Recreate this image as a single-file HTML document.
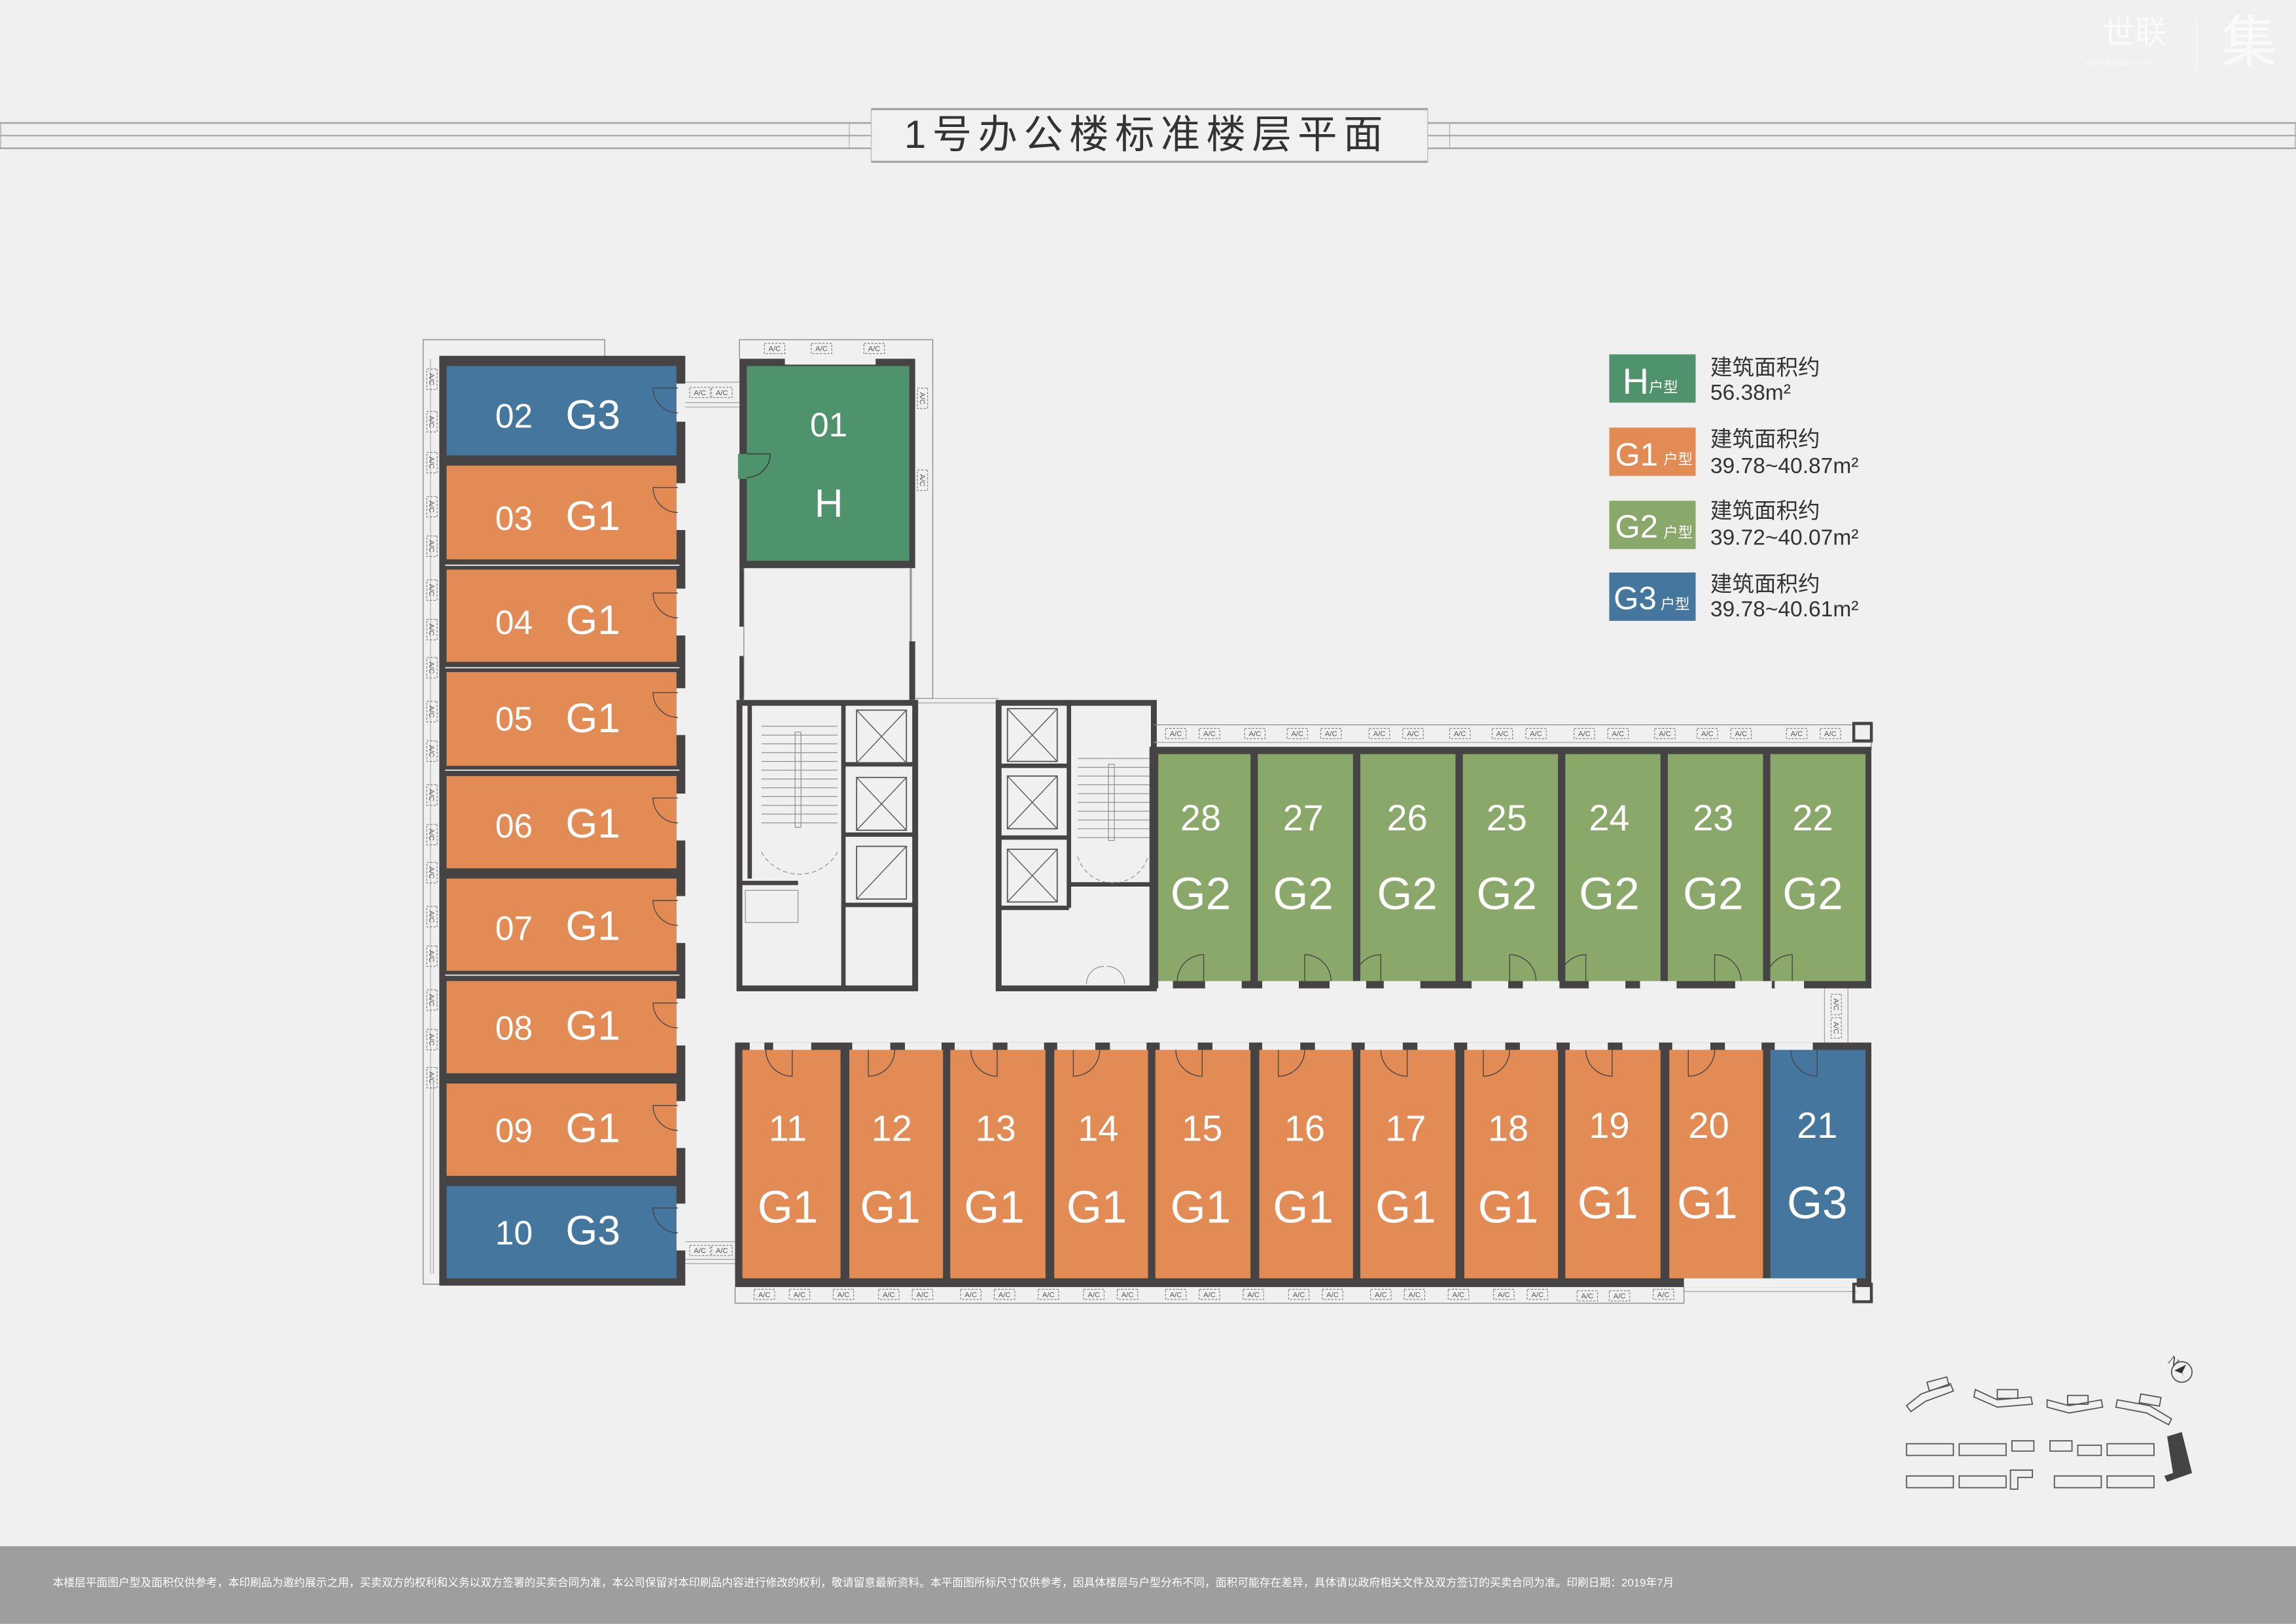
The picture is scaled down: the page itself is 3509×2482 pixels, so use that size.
<!DOCTYPE html>
<html><head><meta charset="utf-8">
<style>
html,body{margin:0;padding:0;background:#eff0ef;}
svg{display:block;}
.n{font-family:"Liberation Sans Narrow","Liberation Sans",sans-serif;fill:#fff;text-anchor:middle;}
.w{font-family:"Liberation Sans",sans-serif;fill:#fff;text-anchor:middle;}
.ac{font-family:"Liberation Sans",sans-serif;font-size:5px;fill:#555;text-anchor:middle;}
.cn{font-family:"Liberation Sans","Noto Sans CJK SC",sans-serif;}
</style></head>
<body>
<svg width="3509" height="2482" viewBox="0 0 1568 1109.1" preserveAspectRatio="none" xmlns="http://www.w3.org/2000/svg">
<defs>
<g id="acbox"><rect x="-7" y="-3.5" width="14" height="7" fill="none" stroke="#777" stroke-width="0.5" stroke-dasharray="1.5,1"/></g>
<g id="elev"><rect x="0" y="0" width="34" height="36" fill="none" stroke="#555" stroke-width="0.8"/><line x1="0" y1="0" x2="34" y2="36" stroke="#555" stroke-width="0.6"/><line x1="34" y1="0" x2="0" y2="36" stroke="#555" stroke-width="0.6"/></g>
</defs>
<rect width="1568" height="1109.1" fill="#eff0ef"/>

<!-- header band -->
<g stroke="#a9a9a9" fill="none">
<line x1="0" y1="84" x2="595" y2="84" stroke-width="1.2"/>
<line x1="0" y1="92.6" x2="595" y2="92.6" stroke-width="1"/>
<line x1="0" y1="101.3" x2="595" y2="101.3" stroke-width="1.2"/>
<line x1="975" y1="84" x2="1568" y2="84" stroke-width="1.2"/>
<line x1="975" y1="92.6" x2="1568" y2="92.6" stroke-width="1"/>
<line x1="975" y1="101.3" x2="1568" y2="101.3" stroke-width="1.2"/>
<line x1="0.5" y1="84" x2="0.5" y2="101" stroke-width="0.6"/>
<line x1="1567.5" y1="84" x2="1567.5" y2="101" stroke-width="0.6"/>
<line x1="580" y1="84" x2="580" y2="101" stroke-width="0.5"/>
<line x1="990" y1="84" x2="990" y2="101" stroke-width="0.5"/>
</g>
<rect x="595" y="74.5" width="380" height="36" fill="#f1f1f1" stroke="#bbb" stroke-width="0.6"/>
<line x1="595" y1="74.5" x2="975" y2="74.5" stroke="#a5a5a5" stroke-width="1.5"/>
<line x1="595" y1="110.5" x2="975" y2="110.5" stroke="#a5a5a5" stroke-width="1.5"/>
<text x="783" y="101" class="cn" font-size="27" fill="#333" text-anchor="middle" letter-spacing="4.2">1号办公楼标准楼层平面</text>

<!-- watermark -->
<text x="1458" y="30" class="cn" font-size="22" fill="#fafafa" text-anchor="middle">世联</text>
<text x="1448" y="45" font-family="Liberation Sans" font-size="7" fill="#f8f8f8" text-anchor="middle">worldunion.com</text>
<line x1="1500" y1="12" x2="1500" y2="48" stroke="#f8f8f8" stroke-width="0.7"/>
<text x="1536" y="42" class="cn" font-size="38" fill="#fafafa" text-anchor="middle">集</text>

<!-- ===== LEFT COLUMN ===== -->
<polyline points="413,243 413,232 289,232 289,877 300,877" fill="none" stroke="#888" stroke-width="0.6"/>
<line x1="294" y1="245" x2="294" y2="870" stroke="#999" stroke-width="0.4"/>
<line x1="296" y1="740" x2="296" y2="870" stroke="#999" stroke-width="0.5"/>
<rect x="300" y="243" width="168" height="635" fill="#454343"/>
<rect x="305" y="250" width="157" height="61" fill="#45779e"/>
<rect x="305" y="318" width="157" height="64" fill="#e28b55"/>
<rect x="305" y="389" width="157" height="63" fill="#e28b55"/>
<rect x="305" y="459" width="157" height="64" fill="#e28b55"/>
<rect x="305" y="530" width="157" height="63" fill="#e28b55"/>
<rect x="305" y="600" width="157" height="63" fill="#e28b55"/>
<rect x="305" y="670" width="157" height="63" fill="#e28b55"/>
<rect x="305" y="740" width="157" height="63" fill="#e28b55"/>
<rect x="305" y="810" width="157" height="63" fill="#45779e"/>
<g stroke="#eee" stroke-width="0.8" fill="none">
<line x1="304" y1="386" x2="464" y2="386"/><line x1="304" y1="456" x2="464" y2="456"/>
<line x1="304" y1="526" x2="464" y2="526"/><line x1="304" y1="666" x2="464" y2="666"/>
</g>
<g fill="#eff0ef">
<rect x="462" y="262" width="7" height="26"/><rect x="462" y="330" width="7" height="32"/><rect x="462" y="402" width="7" height="32"/>
<rect x="462" y="470" width="7" height="32"/><rect x="462" y="542" width="7" height="32"/><rect x="462" y="612" width="7" height="32"/>
<rect x="462" y="682" width="7" height="32"/><rect x="462" y="752" width="7" height="32"/><rect x="462" y="822" width="7" height="32"/>
</g>
<g fill="none" stroke="#444" stroke-width="0.6">
<path d="M463,265 h-17 a17,17 0 0 0 17,17"/>
<path d="M463,333 h-17 a17,17 0 0 0 17,17"/>
<path d="M463,405 h-17 a17,17 0 0 0 17,17"/>
<path d="M463,473 h-17 a17,17 0 0 0 17,17"/>
<path d="M463,545 h-17 a17,17 0 0 0 17,17"/>
<path d="M463,615 h-17 a17,17 0 0 0 17,17"/>
<path d="M463,685 h-17 a17,17 0 0 0 17,17"/>
<path d="M463,755 h-17 a17,17 0 0 0 17,17"/>
<path d="M463,825 h-17 a17,17 0 0 0 17,17"/>
</g>
<g>
<text x="351" y="292" class="n" font-size="23">02</text><text x="405" y="293" class="w" font-size="28">G3</text>
<text x="351" y="362" class="n" font-size="23">03</text><text x="405" y="362" class="w" font-size="28">G1</text>
<text x="351" y="433" class="n" font-size="23">04</text><text x="405" y="433" class="w" font-size="28">G1</text>
<text x="351" y="499" class="n" font-size="23">05</text><text x="405" y="500" class="w" font-size="28">G1</text>
<text x="351" y="572" class="n" font-size="23">06</text><text x="405" y="572" class="w" font-size="28">G1</text>
<text x="351" y="642" class="n" font-size="23">07</text><text x="405" y="642" class="w" font-size="28">G1</text>
<text x="351" y="710" class="n" font-size="23">08</text><text x="405" y="710" class="w" font-size="28">G1</text>
<text x="351" y="780" class="n" font-size="23">09</text><text x="405" y="780" class="w" font-size="28">G1</text>
<text x="351" y="850" class="n" font-size="23">10</text><text x="405" y="850" class="w" font-size="28">G3</text>
</g>
<g>
<g transform="translate(295,259) rotate(90)"><use href="#acbox"/><text class="ac" y="1.8">A/C</text></g>
<g transform="translate(295,288) rotate(90)"><use href="#acbox"/><text class="ac" y="1.8">A/C</text></g>
<g transform="translate(295,316) rotate(90)"><use href="#acbox"/><text class="ac" y="1.8">A/C</text></g>
<g transform="translate(295,346) rotate(90)"><use href="#acbox"/><text class="ac" y="1.8">A/C</text></g>
<g transform="translate(295,373) rotate(90)"><use href="#acbox"/><text class="ac" y="1.8">A/C</text></g>
<g transform="translate(295,403) rotate(90)"><use href="#acbox"/><text class="ac" y="1.8">A/C</text></g>
<g transform="translate(295,430) rotate(90)"><use href="#acbox"/><text class="ac" y="1.8">A/C</text></g>
<g transform="translate(295,456) rotate(90)"><use href="#acbox"/><text class="ac" y="1.8">A/C</text></g>
<g transform="translate(295,486) rotate(90)"><use href="#acbox"/><text class="ac" y="1.8">A/C</text></g>
<g transform="translate(295,513) rotate(90)"><use href="#acbox"/><text class="ac" y="1.8">A/C</text></g>
<g transform="translate(295,543) rotate(90)"><use href="#acbox"/><text class="ac" y="1.8">A/C</text></g>
<g transform="translate(295,570) rotate(90)"><use href="#acbox"/><text class="ac" y="1.8">A/C</text></g>
<g transform="translate(295,596) rotate(90)"><use href="#acbox"/><text class="ac" y="1.8">A/C</text></g>
<g transform="translate(295,626) rotate(90)"><use href="#acbox"/><text class="ac" y="1.8">A/C</text></g>
<g transform="translate(295,653) rotate(90)"><use href="#acbox"/><text class="ac" y="1.8">A/C</text></g>
<g transform="translate(295,683) rotate(90)"><use href="#acbox"/><text class="ac" y="1.8">A/C</text></g>
<g transform="translate(295,710) rotate(90)"><use href="#acbox"/><text class="ac" y="1.8">A/C</text></g>
<g transform="translate(295,736) rotate(90)"><use href="#acbox"/><text class="ac" y="1.8">A/C</text></g>
</g>
<g stroke="#999" stroke-width="0.5">
<line x1="468" y1="261" x2="505" y2="261"/><line x1="468" y1="275" x2="505" y2="275"/><line x1="468" y1="278" x2="505" y2="278"/>
<line x1="468" y1="848" x2="505" y2="848"/><line x1="468" y1="860" x2="505" y2="860"/><line x1="468" y1="863" x2="505" y2="863"/>
</g>
<g transform="translate(478,268)"><use href="#acbox"/><text class="ac" y="1.8">A/C</text></g>
<g transform="translate(493,268)"><use href="#acbox"/><text class="ac" y="1.8">A/C</text></g>
<g transform="translate(478,854)"><use href="#acbox"/><text class="ac" y="1.8">A/C</text></g>
<g transform="translate(493,854)"><use href="#acbox"/><text class="ac" y="1.8">A/C</text></g>

<!-- ===== H UNIT ===== -->
<polyline points="505,245 505,232 637,232 637,477 625,477" fill="none" stroke="#888" stroke-width="0.6"/>
<g transform="translate(529,238)"><use href="#acbox"/><text class="ac" y="1.8">A/C</text></g>
<g transform="translate(561,238)"><use href="#acbox"/><text class="ac" y="1.8">A/C</text></g>
<g transform="translate(597,238)"><use href="#acbox"/><text class="ac" y="1.8">A/C</text></g>
<g transform="translate(630,272) rotate(90)"><use href="#acbox"/><text class="ac" y="1.8">A/C</text></g>
<g transform="translate(630,328) rotate(90)"><use href="#acbox"/><text class="ac" y="1.8">A/C</text></g>
<rect x="505" y="245" width="120" height="143" fill="#454343"/>
<rect x="510" y="250" width="111" height="133" fill="#4e936b"/>
<rect x="536" y="244" width="62" height="5" fill="#eff0ef"/>
<rect x="504" y="310" width="6" height="17" fill="#4e936b"/>
<path d="M510,310 h16 a16,16 0 0 1 -16,16" fill="none" stroke="#333" stroke-width="0.6"/>
<text x="566" y="298" class="n" font-size="23">01</text>
<text x="566" y="353" class="w" font-size="27">H</text>
<rect x="505" y="388" width="3" height="40" fill="#454343"/>
<rect x="505" y="448" width="3" height="30" fill="#454343"/>
<line x1="508" y1="388" x2="508" y2="477" stroke="#777" stroke-width="0.5"/>
<line x1="622" y1="388" x2="622" y2="477" stroke="#999" stroke-width="1.5"/>
<rect x="621" y="438" width="4" height="40" fill="#454343"/>
<g stroke="#999" stroke-width="0.5"><line x1="625" y1="477" x2="682" y2="477"/><line x1="625" y1="480" x2="682" y2="480"/></g>

<!-- ===== CORE 1 ===== -->
<g fill="none" stroke="#454343" stroke-width="4">
<path d="M625,480 H505 V675 H625 Z"/>
</g>
<g fill="none" stroke="#454343" stroke-width="3">
<line x1="576" y1="480" x2="576" y2="675"/>
<line x1="512" y1="480" x2="512" y2="600"/>
<line x1="505" y1="603" x2="545" y2="603"/>
<line x1="576" y1="522" x2="625" y2="522"/>
<line x1="576" y1="570" x2="625" y2="570"/>
<line x1="576" y1="618" x2="625" y2="618"/>
</g>
<use href="#elev" transform="translate(585,485)"/>
<use href="#elev" transform="translate(585,531)"/>
<rect x="585" y="578" width="34" height="36" fill="none" stroke="#555" stroke-width="0.8"/>
<line x1="585" y1="614" x2="619" y2="578" stroke="#555" stroke-width="0.6"/>
<g stroke="#888" stroke-width="0.5" fill="none">
<line x1="520" y1="496" x2="572" y2="496"/><line x1="520" y1="502" x2="572" y2="502"/><line x1="520" y1="508" x2="572" y2="508"/><line x1="520" y1="514" x2="572" y2="514"/>
<line x1="520" y1="520" x2="572" y2="520"/><line x1="520" y1="526" x2="572" y2="526"/><line x1="520" y1="532" x2="572" y2="532"/><line x1="520" y1="538" x2="572" y2="538"/>
<line x1="520" y1="544" x2="572" y2="544"/><line x1="520" y1="550" x2="572" y2="550"/><line x1="520" y1="556" x2="572" y2="556"/><line x1="520" y1="562" x2="572" y2="562"/>
<rect x="543" y="500" width="4" height="65"/>
<path d="M520,582 a30,30 0 0 0 52,0" stroke-dasharray="3,2"/>
<rect x="509" y="608" width="36" height="22"/>
</g>

<!-- ===== CORE 2 ===== -->
<g fill="none" stroke="#454343" stroke-width="4">
<path d="M682,480 H788 V675 H682 Z"/>
</g>
<g fill="none" stroke="#454343" stroke-width="3">
<line x1="730" y1="480" x2="730" y2="620"/>
<line x1="682" y1="523" x2="730" y2="523"/>
<line x1="682" y1="572" x2="730" y2="572"/>
<line x1="682" y1="620" x2="730" y2="620"/>
<line x1="730" y1="604" x2="788" y2="604"/>
</g>
<use href="#elev" transform="translate(688,484)"/>
<use href="#elev" transform="translate(688,530)"/>
<use href="#elev" transform="translate(688,580)"/>
<g stroke="#888" stroke-width="0.5" fill="none">
<line x1="736" y1="518" x2="785" y2="518"/><line x1="736" y1="524" x2="785" y2="524"/><line x1="736" y1="530" x2="785" y2="530"/><line x1="736" y1="536" x2="785" y2="536"/>
<line x1="736" y1="542" x2="785" y2="542"/><line x1="736" y1="548" x2="785" y2="548"/><line x1="736" y1="554" x2="785" y2="554"/><line x1="736" y1="560" x2="785" y2="560"/>
<line x1="736" y1="566" x2="785" y2="566"/><line x1="736" y1="572" x2="785" y2="572"/>
<rect x="757" y="522" width="4" height="52"/>
<path d="M736,585 a25,25 0 0 0 48,0" stroke-dasharray="3,2"/>
<path d="M742,672 a12,12 0 0 1 12,-12 M768,672 a12,12 0 0 0 -12,-12"/>
</g>

<!-- ===== G2 ROW ===== -->
<polyline points="788,495 1278,495 1278,512" fill="none" stroke="#888" stroke-width="0.6"/>
<line x1="788" y1="507" x2="1278" y2="507" stroke="#aaa" stroke-width="0.6"/>
<rect x="785" y="510" width="493" height="165" fill="#454343"/>
<g fill="#8aa86a">
<rect x="791" y="515" width="63" height="155"/>
<rect x="859" y="515" width="65" height="155"/>
<rect x="929" y="515" width="65" height="155"/>
<rect x="999" y="515" width="65" height="155"/>
<rect x="1069" y="515" width="65" height="155"/>
<rect x="1139" y="515" width="65" height="155"/>
<rect x="1209" y="515" width="65" height="155"/>
</g>
<g fill="#eff0ef">
<rect x="791" y="670" width="10" height="5"/><rect x="823" y="670" width="25" height="5"/>
<rect x="862" y="670" width="25" height="5"/><rect x="908" y="670" width="25" height="5"/>
<rect x="945" y="670" width="25" height="5"/><rect x="1005" y="670" width="25" height="5"/>
<rect x="1040" y="670" width="25" height="5"/><rect x="1085" y="670" width="25" height="5"/>
<rect x="1120" y="670" width="25" height="5"/><rect x="1185" y="670" width="25" height="5"/>
<rect x="1212" y="670" width="20" height="5"/>
</g>
<g fill="none" stroke="#444" stroke-width="0.6">
<path d="M822,670 v-18 a18,18 0 0 0 -18,18"/>
<path d="M891,670 v-18 a18,18 0 0 1 18,18"/>
<path d="M943,670 v-18 a18,18 0 0 0 -18,18"/>
<path d="M1031,670 v-18 a18,18 0 0 1 18,18"/>
<path d="M1083,670 v-18 a18,18 0 0 0 -18,18"/>
<path d="M1171,670 v-18 a18,18 0 0 1 18,18"/>
<path d="M1224,670 v-18 a18,18 0 0 0 -18,18"/>
</g>
<g>
<text x="820" y="567" class="n" font-size="25">28</text><text x="820" y="621" class="n" font-size="31">G2</text>
<text x="890" y="567" class="n" font-size="25">27</text><text x="890" y="621" class="n" font-size="31">G2</text>
<text x="961" y="567" class="n" font-size="25">26</text><text x="961" y="621" class="n" font-size="31">G2</text>
<text x="1029" y="567" class="n" font-size="25">25</text><text x="1029" y="621" class="n" font-size="31">G2</text>
<text x="1099" y="567" class="n" font-size="25">24</text><text x="1099" y="621" class="n" font-size="31">G2</text>
<text x="1170" y="567" class="n" font-size="25">23</text><text x="1170" y="621" class="n" font-size="31">G2</text>
<text x="1238" y="567" class="n" font-size="25">22</text><text x="1238" y="621" class="n" font-size="31">G2</text>
</g>
<g>
<g transform="translate(803,501)"><use href="#acbox"/><text class="ac" y="1.8">A/C</text></g>
<g transform="translate(826,501)"><use href="#acbox"/><text class="ac" y="1.8">A/C</text></g>
<g transform="translate(857,501)"><use href="#acbox"/><text class="ac" y="1.8">A/C</text></g>
<g transform="translate(886,501)"><use href="#acbox"/><text class="ac" y="1.8">A/C</text></g>
<g transform="translate(909,501)"><use href="#acbox"/><text class="ac" y="1.8">A/C</text></g>
<g transform="translate(942,501)"><use href="#acbox"/><text class="ac" y="1.8">A/C</text></g>
<g transform="translate(965,501)"><use href="#acbox"/><text class="ac" y="1.8">A/C</text></g>
<g transform="translate(997,501)"><use href="#acbox"/><text class="ac" y="1.8">A/C</text></g>
<g transform="translate(1026,501)"><use href="#acbox"/><text class="ac" y="1.8">A/C</text></g>
<g transform="translate(1049,501)"><use href="#acbox"/><text class="ac" y="1.8">A/C</text></g>
<g transform="translate(1082,501)"><use href="#acbox"/><text class="ac" y="1.8">A/C</text></g>
<g transform="translate(1105,501)"><use href="#acbox"/><text class="ac" y="1.8">A/C</text></g>
<g transform="translate(1137,501)"><use href="#acbox"/><text class="ac" y="1.8">A/C</text></g>
<g transform="translate(1166,501)"><use href="#acbox"/><text class="ac" y="1.8">A/C</text></g>
<g transform="translate(1189,501)"><use href="#acbox"/><text class="ac" y="1.8">A/C</text></g>
<g transform="translate(1227,501)"><use href="#acbox"/><text class="ac" y="1.8">A/C</text></g>
<g transform="translate(1250,501)"><use href="#acbox"/><text class="ac" y="1.8">A/C</text></g>
</g>
<g stroke="#999" stroke-width="0.5"><line x1="1246" y1="675" x2="1246" y2="712"/><line x1="1262" y1="675" x2="1262" y2="712"/></g>
<g transform="translate(1254,686) rotate(90)"><use href="#acbox"/><text class="ac" y="1.8">A/C</text></g>
<g transform="translate(1254,702) rotate(90)"><use href="#acbox"/><text class="ac" y="1.8">A/C</text></g>

<!-- ===== BOTTOM ROW ===== -->
<rect x="502" y="712" width="776" height="167" fill="#454343"/>
<g fill="#e28b55">
<rect x="507" y="717" width="67" height="156"/>
<rect x="580" y="717" width="64" height="156"/>
<rect x="649" y="717" width="65" height="156"/>
<rect x="720" y="717" width="64" height="156"/>
<rect x="789" y="717" width="65" height="156"/>
<rect x="860" y="717" width="64" height="156"/>
<rect x="929" y="717" width="65" height="156"/>
<rect x="1000" y="717" width="64" height="156"/>
<rect x="1069" y="717" width="65" height="156"/>
<rect x="1140" y="717" width="64" height="156"/>
</g>
<rect x="1209" y="717" width="65" height="156" fill="#45779e"/>
<rect x="1150" y="873" width="118" height="6" fill="#eff0ef"/>
<g fill="#eff0ef">
<rect x="512" y="712" width="10" height="5"/><rect x="528" y="712" width="26" height="5"/>
<rect x="582" y="712" width="26" height="5"/><rect x="618" y="712" width="25" height="5"/>
<rect x="652" y="712" width="26" height="5"/><rect x="688" y="712" width="25" height="5"/>
<rect x="722" y="712" width="26" height="5"/><rect x="758" y="712" width="25" height="5"/>
<rect x="792" y="712" width="26" height="5"/><rect x="828" y="712" width="25" height="5"/>
<rect x="862" y="712" width="26" height="5"/><rect x="898" y="712" width="25" height="5"/>
<rect x="932" y="712" width="26" height="5"/><rect x="968" y="712" width="25" height="5"/>
<rect x="1002" y="712" width="26" height="5"/><rect x="1038" y="712" width="25" height="5"/>
<rect x="1072" y="712" width="26" height="5"/><rect x="1108" y="712" width="25" height="5"/>
<rect x="1142" y="712" width="26" height="5"/><rect x="1178" y="712" width="25" height="5"/>
<rect x="1212" y="712" width="26" height="5"/>
</g>
<g fill="none" stroke="#444" stroke-width="0.6">
<path d="M523,717 a18,18 0 0 0 18,18 v-18"/>
<path d="M611,717 a18,18 0 0 1 -18,18 v-18"/>
<path d="M663,717 a18,18 0 0 0 18,18 v-18"/>
<path d="M751,717 a18,18 0 0 1 -18,18 v-18"/>
<path d="M803,717 a18,18 0 0 0 18,18 v-18"/>
<path d="M891,717 a18,18 0 0 1 -18,18 v-18"/>
<path d="M943,717 a18,18 0 0 0 18,18 v-18"/>
<path d="M1031,717 a18,18 0 0 1 -18,18 v-18"/>
<path d="M1083,717 a18,18 0 0 0 18,18 v-18"/>
<path d="M1171,717 a18,18 0 0 1 -18,18 v-18"/>
<path d="M1223,717 a18,18 0 0 0 18,18 v-18"/>
</g>
<g>
<text x="538" y="779" class="n" font-size="25">11</text><text x="538" y="835" class="n" font-size="31">G1</text>
<text x="609" y="779" class="n" font-size="25">12</text><text x="608" y="835" class="n" font-size="31">G1</text>
<text x="680" y="779" class="n" font-size="25">13</text><text x="679" y="835" class="n" font-size="31">G1</text>
<text x="750" y="779" class="n" font-size="25">14</text><text x="749" y="835" class="n" font-size="31">G1</text>
<text x="821" y="779" class="n" font-size="25">15</text><text x="820" y="835" class="n" font-size="31">G1</text>
<text x="891" y="779" class="n" font-size="25">16</text><text x="890" y="835" class="n" font-size="31">G1</text>
<text x="960" y="779" class="n" font-size="25">17</text><text x="960" y="835" class="n" font-size="31">G1</text>
<text x="1030" y="779" class="n" font-size="25">18</text><text x="1030" y="835" class="n" font-size="31">G1</text>
<text x="1099" y="777" class="n" font-size="25">19</text><text x="1098" y="832" class="n" font-size="31">G1</text>
<text x="1167" y="777" class="n" font-size="25">20</text><text x="1166" y="832" class="n" font-size="31">G1</text>
<text x="1241" y="777" class="n" font-size="25">21</text><text x="1241" y="832" class="n" font-size="31">G3</text>
</g>
<polyline points="502,879 502,890 1150,890 1150,879" fill="none" stroke="#888" stroke-width="0.6"/>
<line x1="1150" y1="882" x2="1268" y2="882" stroke="#999" stroke-width="0.5"/>
<rect x="1266" y="877" width="12" height="12" fill="none" stroke="#454343" stroke-width="2"/>
<rect x="1266" y="494" width="12" height="12" fill="none" stroke="#454343" stroke-width="2"/>
<g>
<g transform="translate(522,884)"><use href="#acbox"/><text class="ac" y="1.8">A/C</text></g>
<g transform="translate(546,884)"><use href="#acbox"/><text class="ac" y="1.8">A/C</text></g>
<g transform="translate(576,884)"><use href="#acbox"/><text class="ac" y="1.8">A/C</text></g>
<g transform="translate(607,884)"><use href="#acbox"/><text class="ac" y="1.8">A/C</text></g>
<g transform="translate(630,884)"><use href="#acbox"/><text class="ac" y="1.8">A/C</text></g>
<g transform="translate(663,884)"><use href="#acbox"/><text class="ac" y="1.8">A/C</text></g>
<g transform="translate(686,884)"><use href="#acbox"/><text class="ac" y="1.8">A/C</text></g>
<g transform="translate(716,884)"><use href="#acbox"/><text class="ac" y="1.8">A/C</text></g>
<g transform="translate(747,884)"><use href="#acbox"/><text class="ac" y="1.8">A/C</text></g>
<g transform="translate(770,884)"><use href="#acbox"/><text class="ac" y="1.8">A/C</text></g>
<g transform="translate(803,884)"><use href="#acbox"/><text class="ac" y="1.8">A/C</text></g>
<g transform="translate(826,884)"><use href="#acbox"/><text class="ac" y="1.8">A/C</text></g>
<g transform="translate(856,884)"><use href="#acbox"/><text class="ac" y="1.8">A/C</text></g>
<g transform="translate(887,884)"><use href="#acbox"/><text class="ac" y="1.8">A/C</text></g>
<g transform="translate(910,884)"><use href="#acbox"/><text class="ac" y="1.8">A/C</text></g>
<g transform="translate(943,884)"><use href="#acbox"/><text class="ac" y="1.8">A/C</text></g>
<g transform="translate(966,884)"><use href="#acbox"/><text class="ac" y="1.8">A/C</text></g>
<g transform="translate(996,884)"><use href="#acbox"/><text class="ac" y="1.8">A/C</text></g>
<g transform="translate(1027,884)"><use href="#acbox"/><text class="ac" y="1.8">A/C</text></g>
<g transform="translate(1050,884)"><use href="#acbox"/><text class="ac" y="1.8">A/C</text></g>
<g transform="translate(1084,885)"><use href="#acbox"/><text class="ac" y="1.8">A/C</text></g>
<g transform="translate(1106,885)"><use href="#acbox"/><text class="ac" y="1.8">A/C</text></g>
<g transform="translate(1136,884)"><use href="#acbox"/><text class="ac" y="1.8">A/C</text></g>
</g>

<!-- ===== LEGEND ===== -->
<rect x="1099" y="242" width="59" height="33" fill="#4e936b"/>
<rect x="1099" y="292" width="59" height="33" fill="#e28b55"/>
<rect x="1099" y="342" width="59" height="33" fill="#8aa86a"/>
<rect x="1099" y="391" width="59" height="33" fill="#45779e"/>
<g class="cn" fill="#fff">
<text x="1108" y="269" font-size="25">H</text><text x="1126" y="268" font-size="10">户型</text>
<text x="1103" y="318" font-size="22">G1</text><text x="1136" y="317" font-size="10">户型</text>
<text x="1103" y="367" font-size="22">G2</text><text x="1136" y="367" font-size="10">户型</text>
<text x="1102" y="416" font-size="22">G3</text><text x="1134" y="416" font-size="10">户型</text>
</g>
<g class="cn" fill="#333" font-size="15">
<text x="1168" y="256">建筑面积约</text><text x="1168" y="273">56.38m²</text>
<text x="1168" y="305">建筑面积约</text><text x="1168" y="323">39.78~40.87m²</text>
<text x="1168" y="354">建筑面积约</text><text x="1168" y="372">39.72~40.07m²</text>
<text x="1168" y="404">建筑面积约</text><text x="1168" y="421">39.78~40.61m²</text>
</g>

<!-- ===== SITE PLAN ===== -->
<g fill="none" stroke="#555" stroke-width="0.8">
<path d="M1302,960 l10,-8 l20,-7 l2,5 l-19,7 l-10,7 z"/><rect x="1316" y="944" width="14" height="6" transform="rotate(-15 1316 944)"/>
<path d="M1349,949 l15,7 l23,-2 l1,5 l-24,2 l-16,-7 z"/><rect x="1364" y="949" width="14" height="6"/>
<path d="M1398,956 l15,4 l22,-4 l1,5 l-23,4 l-15,-4 z"/><rect x="1412" y="953" width="14" height="6"/>
<path d="M1446,956 l22,4 l15,9 l-2,4 l-15,-8 l-21,-4 z"/><rect x="1462" y="952" width="14" height="6" transform="rotate(10 1462 952)"/>
<rect x="1302" y="986" width="32" height="8"/><rect x="1338" y="986" width="32" height="8"/><rect x="1374" y="984" width="15" height="7"/>
<rect x="1400" y="984" width="15" height="7"/><rect x="1419" y="987" width="16" height="7"/><rect x="1439" y="986" width="32" height="8"/>
<rect x="1302" y="1008" width="32" height="8"/><rect x="1338" y="1008" width="32" height="8"/><path d="M1373,1004 h15 v5 h-10 v8 h-5 z"/>
<rect x="1403" y="1008" width="32" height="8"/><rect x="1439" y="1008" width="32" height="8"/>
<circle cx="1490" cy="937" r="7"/>
</g>
<path d="M1488,932 l4,9 l-2,-4 z M1485,936 l8,-4 l-3,6 z" fill="#333"/>
<text x="1480" y="930" font-family="Liberation Serif" font-size="9" fill="#444" transform="rotate(40 1480 930)">N</text>
<path d="M1480,981 l10,-3 l7,28 l-17,6 l-2,-4 l6,-2 z" fill="#454343"/>

<!-- ===== FOOTER ===== -->
<rect x="0" y="1056" width="1568" height="53" fill="#9e9e9e"/>
<text x="36" y="1083.5" class="cn" font-size="7.5" fill="#fff">本楼层平面图户型及面积仅供参考，本印刷品为邀约展示之用，买卖双方的权利和义务以双方签署的买卖合同为准，本公司保留对本印刷品内容进行修改的权利，敬请留意最新资料。本平面图所标尺寸仅供参考，因具体楼层与户型分布不同，面积可能存在差异，具体请以政府相关文件及双方签订的买卖合同为准。印刷日期：2019年7月</text>
</svg>
</body></html>
